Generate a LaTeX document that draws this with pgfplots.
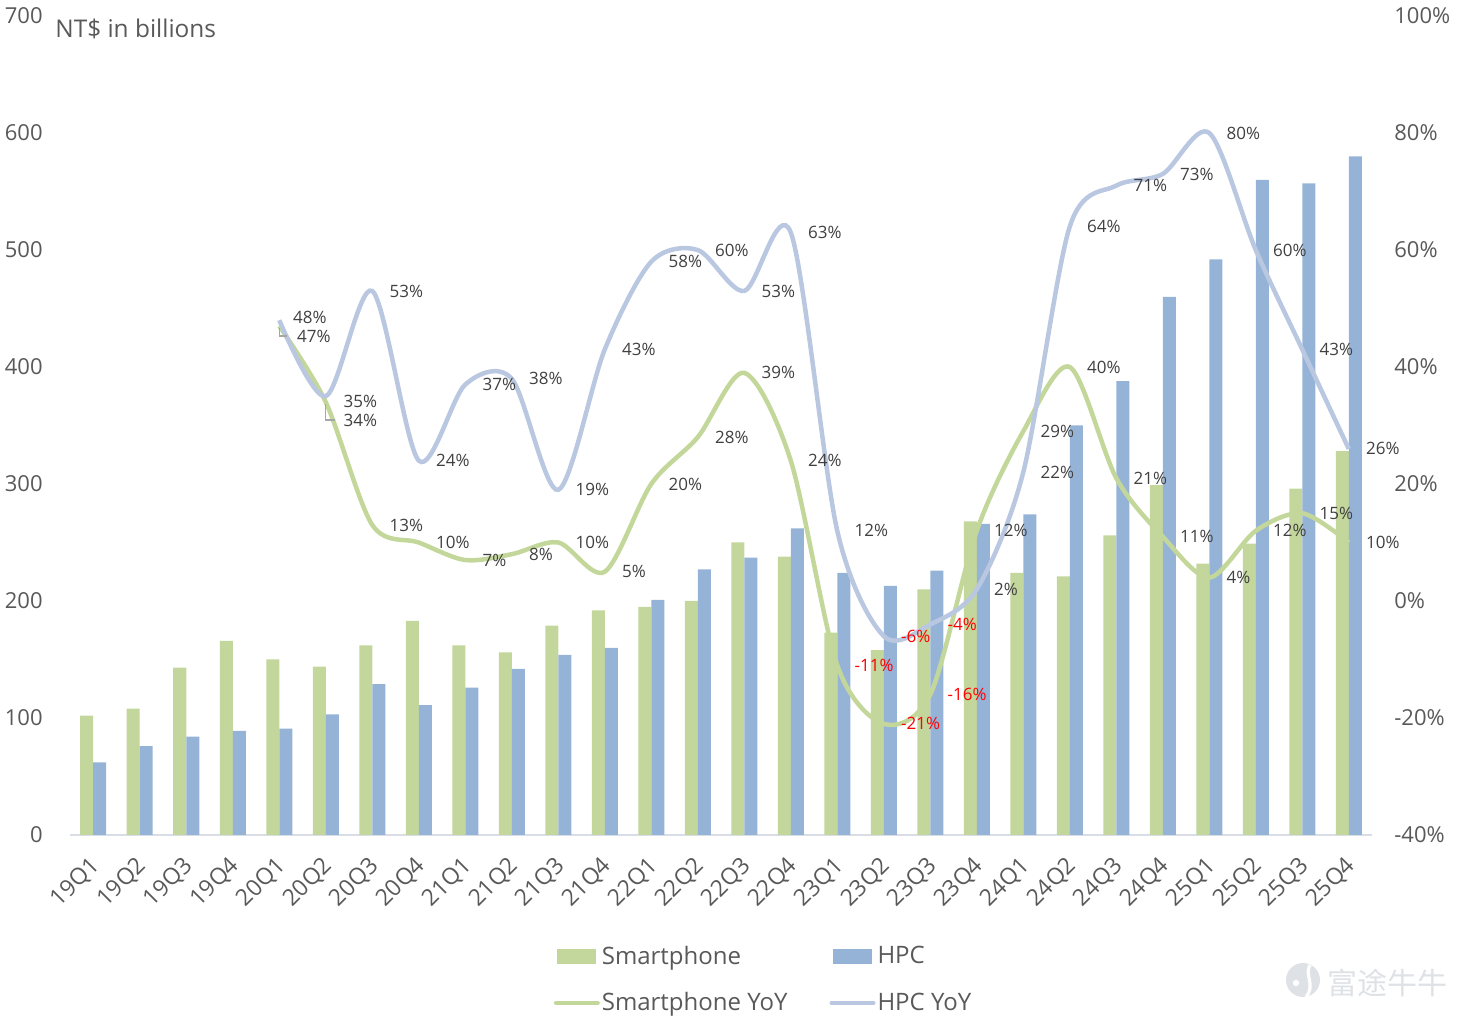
\documentclass[border=0pt]{standalone}
\usepackage{pgfplots}
\pgfplotsset{compat=1.18}
\usepackage{pgfplotstable}
\usepackage{fontspec}
\setmainfont{Open Sans}
\newfontfamily\cjk{Noto Sans CJK SC}
\definecolor{smartbar}{RGB}{195,214,155}
\definecolor{hpcbar}{RGB}{149,179,215}
\definecolor{smartline}{RGB}{196,215,155}
\definecolor{hpcline}{RGB}{185,199,225}
\definecolor{ticktext}{RGB}{89,89,89}
\definecolor{labeltext}{RGB}{64,64,64}
\definecolor{axisline}{RGB}{217,222,230}
\definecolor{wm}{RGB}{222,225,229}

\pgfplotstableread{
x smart hpc
0 102 62
1 108 76
2 143 84
3 166 89
4 150 91
5 144 103
6 162 129
7 183 111
8 162 126
9 156 142
10 179 154
11 192 160
12 195 201
13 200 227
14 250 237
15 238 262
16 173 224
17 158 213
18 210 226
19 268 266
20 224 274
21 221 350
22 256 388
23 299 460
24 232 492
25 249 560
26 296 557
27 328 580
}\revenue

\pgfplotstableread{
x smart hpc
4 47 48
5 34 35
6 13 53
7 10 24
8 7 37
9 8 38
10 10 19
11 5 43
12 20 58
13 28 60
14 39 53
15 24 63
16 -11 12
17 -21 -6
18 -16 -4
19 12 2
20 29 22
21 40 64
22 21 71
23 11 73
24 4 80
25 12 60
26 15 43
27 10 26
}\yoy

\pgfplotsset{/pgf/number format/assume math mode=true}
\tikzset{lbl/.style={font=\fontsize{8.5}{10}\selectfont, text=labeltext, inner sep=0pt}}

\begin{document}
\begin{tikzpicture}
\path[use as bounding box] (0,0) rectangle (731.5pt,508.5pt);
\begin{axis}[
  at={(35pt,91pt)}, anchor=south west,
  width=651pt, height=409.5pt, scale only axis,
  xmin=-0.5, xmax=27.5, ymin=0, ymax=700,
  ybar=0pt, bar width=6.5pt,
  axis x line*=bottom, axis y line*=left,
  y axis line style={draw=none},
  x axis line style={draw=axisline, line width=1pt},
  xtick={0,...,27},
  xticklabels={19Q1,19Q2,19Q3,19Q4,20Q1,20Q2,20Q3,20Q4,21Q1,21Q2,21Q3,21Q4,22Q1,22Q2,22Q3,22Q4,23Q1,23Q2,23Q3,23Q4,24Q1,24Q2,24Q3,24Q4,25Q1,25Q2,25Q3,25Q4},
  major tick length=0pt,
  ytick={0,100,...,700},
  yticklabel style={font=\fontsize{11}{13}\selectfont, text=ticktext, anchor=east, inner sep=0pt, xshift=-13.5pt},
  xticklabel style={font=\fontsize{11.5}{13}\selectfont, text=ticktext, xshift=1.5pt, yshift=-13.5pt, rotate=45, anchor=east, inner sep=0pt},
]
\addplot[fill=smartbar, draw=none] table[x=x, y=smart]{\revenue};
\addplot[fill=hpcbar, draw=none] table[x=x, y=hpc]{\revenue};
\end{axis}

\begin{axis}[
  at={(35pt,91pt)}, anchor=south west,
  width=651pt, height=409.5pt, scale only axis,
  xmin=-0.5, xmax=27.5, ymin=-40, ymax=100,
  axis x line=none, axis y line*=right,
  y axis line style={draw=none},
  major tick length=0pt,
  ytick={-40,-20,...,100},
  yticklabel={\pgfmathprintnumber{\tick}\%},
  yticklabel style={font=\fontsize{11}{13}\selectfont, text=ticktext, anchor=west, inner sep=0pt, xshift=11pt},
  legend columns=2,
  legend cell align=left,
  legend style={draw=none, fill=none, font=\fontsize{12}{14}\selectfont, text=ticktext,
    at={(0.3667,-0.1278)}, anchor=north west, row sep=10.5pt, nodes={inner sep=1pt},
    /tikz/every even column/.append style={column sep=20pt}},
]
\addlegendimage{legend image code/.code={\fill[smartbar] (0pt,-3.5pt) rectangle (19pt,3.5pt);}}
\addlegendentry{Smartphone}
\addlegendimage{legend image code/.code={\fill[hpcbar] (0pt,-3.5pt) rectangle (19pt,3.5pt);}}
\addlegendentry{HPC}
\addlegendimage{legend image code/.code={\draw[smartline, line width=2pt, line cap=round] (-1pt,0pt) -- (20pt,0pt);}}
\addlegendentry{Smartphone YoY}
\addlegendimage{legend image code/.code={\draw[hpcline, line width=2pt, line cap=round] (-1pt,0pt) -- (20pt,0pt);}}
\addlegendentry{HPC YoY}

\addplot[forget plot, smooth, tension=0.5, smartline, line width=2.25pt, mark=none] table[x=x, y=smart]{\yoy};
\addplot[forget plot, smooth, tension=0.5, hpcline, line width=2.25pt, mark=none] table[x=x, y=hpc]{\yoy};

% data labels
\addplot[forget plot, draw=none, mark=none, restrict x to domain=6:27, restrict y to domain=0:200, point meta=y,
  nodes near coords={\pgfmathprintnumber{\pgfplotspointmeta}\%},
  nodes near coords style={lbl, anchor=west, xshift=8.5pt}] table[x=x, y=smart]{\yoy};
\addplot[forget plot, draw=none, mark=none, restrict x to domain=6:27, restrict y to domain=0:200, point meta=y,
  nodes near coords={\pgfmathprintnumber{\pgfplotspointmeta}\%},
  nodes near coords style={lbl, anchor=west, xshift=8.5pt}] table[x=x, y=hpc]{\yoy};
\addplot[forget plot, draw=none, mark=none, restrict y to domain=-100:-0.5, point meta=y,
  nodes near coords={\pgfmathprintnumber{\pgfplotspointmeta}\%},
  nodes near coords style={lbl, text=red, anchor=west, xshift=8.5pt}] table[x=x, y=smart]{\yoy};
\addplot[forget plot, draw=none, mark=none, restrict y to domain=-100:-0.5, point meta=y,
  nodes near coords={\pgfmathprintnumber{\pgfplotspointmeta}\%},
  nodes near coords style={lbl, text=red, anchor=west, xshift=8.5pt}] table[x=x, y=hpc]{\yoy};

\node[lbl, anchor=west, xshift=6.75pt, yshift=1.5pt] at (axis cs:4,48) {48\%};
\node[lbl, anchor=west, xshift=8.75pt, yshift=-5pt] at (axis cs:4,47) {47\%};
\node[lbl, anchor=west, xshift=8.75pt, yshift=-2.5pt] at (axis cs:5,35) {35\%};
\node[lbl, anchor=west, xshift=8.75pt, yshift=-9pt] at (axis cs:5,34) {34\%};
\draw[gray!70, line width=0.7pt] (axis cs:4,47) ++(0pt,-1pt) -- ++(0pt,-4pt) -- ++(4pt,0pt);
\draw[gray!70, line width=0.7pt] (axis cs:5,34) ++(0pt,-1pt) -- ++(0pt,-8pt) -- ++(4.5pt,0pt);
\end{axis}

\node[anchor=west, inner sep=0pt, font=\fontsize{12.2}{14}\selectfont, text=ticktext] at (27.5pt,494pt) {NT\$ in billions};
\fill[wm] (651.5pt,18.5pt) circle (8.5pt);
\fill[white] (648pt,17pt) circle (1.6pt);
\draw[white, line width=1.6pt] (655pt,26pt) .. controls (652pt,21pt) and (658pt,16pt) .. (653pt,10pt);
\node[anchor=west, inner sep=0pt, text=wm, font=\cjk\fontsize{15}{15}\selectfont] at (663.5pt,17pt) {富途牛牛};
\end{tikzpicture}
\end{document}
